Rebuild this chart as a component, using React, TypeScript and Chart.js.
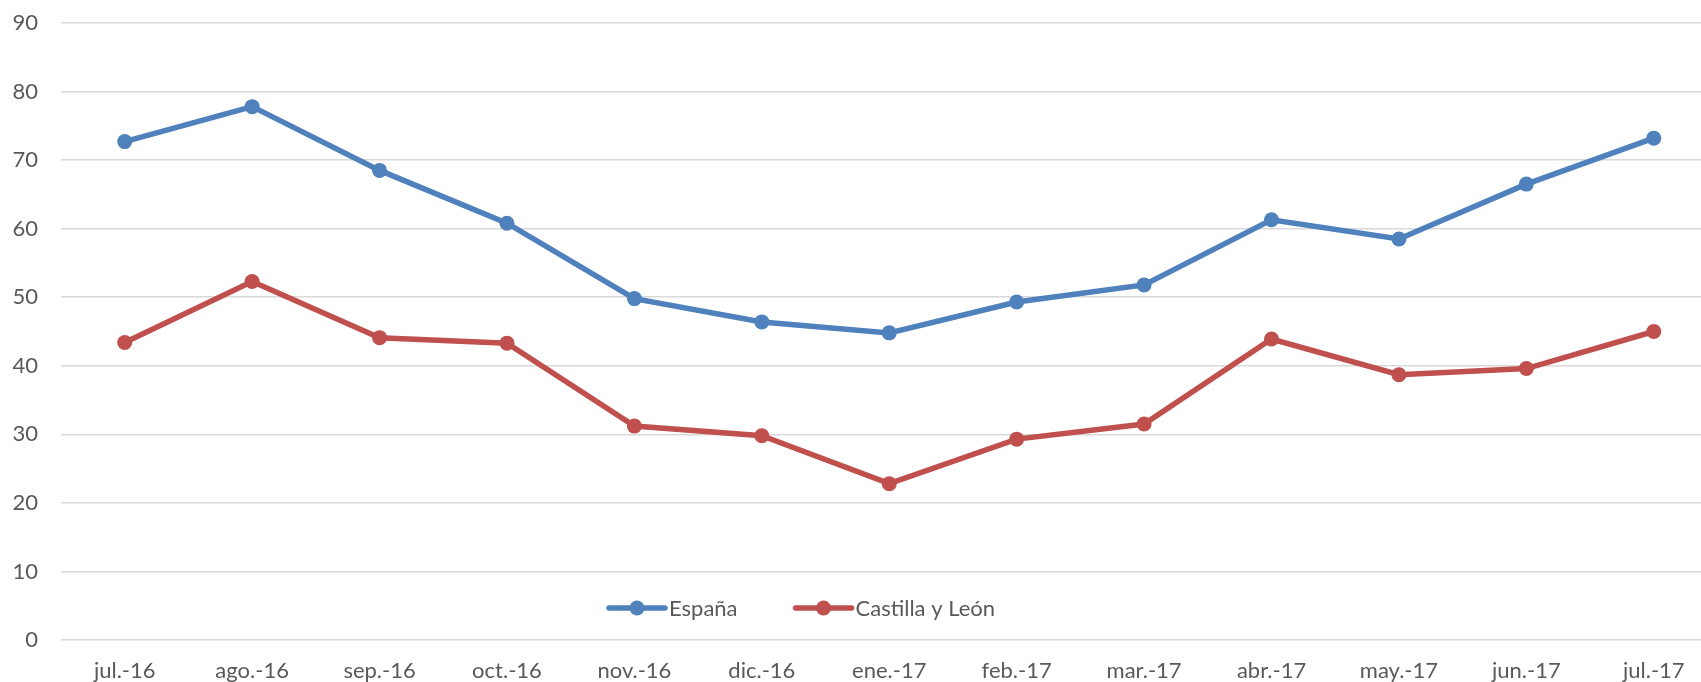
import React, { useEffect, useRef } from "react";
import { Chart, registerables } from "chart.js";

Chart.register(...registerables);

const categories = [
  "jul.-16", "ago.-16", "sep.-16", "oct.-16", "nov.-16", "dic.-16", "ene.-17",
  "feb.-17", "mar.-17", "abr.-17", "may.-17", "jun.-17", "jul.-17",
];
const espana = [72.7, 77.8, 68.5, 60.8, 49.8, 46.4, 44.8, 49.3, 51.8, 61.3, 58.5, 66.5, 73.2];
const castilla = [43.4, 52.3, 44.1, 43.3, 31.2, 29.8, 22.8, 29.3, 31.5, 43.9, 38.7, 39.6, 45.0];
const seriesNames = ["España", "Castilla y León"];
const seriesColors = ["#4F81BD", "#C0504D"];

const FONT = "Lato, 'Open Sans', sans-serif";
const TEXT = "#595959";

const legendPlugin = {
  id: "inlineLegend",
  afterDraw(chart: any) {
    const ctx = chart.ctx;
    const y = 608;
    const lineLen = 56;
    const gapText = 4;
    const gapItem = 58;
    ctx.save();
    ctx.font = `22px ${FONT}`;
    const widths = chart.data.datasets.map((d: any) => ctx.measureText(d.label).width);
    let total = 0;
    widths.forEach((w: number, i: number) => {
      total += lineLen + gapText + w + (i < widths.length - 1 ? gapItem : 0);
    });
    let x = 802 - total / 2;
    chart.data.datasets.forEach((d: any, i: number) => {
      ctx.strokeStyle = d.borderColor;
      ctx.lineWidth = 5.5;
      ctx.lineCap = "round";
      ctx.beginPath();
      ctx.moveTo(x, y);
      ctx.lineTo(x + lineLen, y);
      ctx.stroke();
      ctx.fillStyle = d.borderColor;
      ctx.beginPath();
      ctx.arc(x + lineLen / 2, y, 7.5, 0, Math.PI * 2);
      ctx.fill();
      ctx.fillStyle = TEXT;
      ctx.textBaseline = "middle";
      ctx.textAlign = "left";
      ctx.fillText(d.label, x + lineLen + gapText, y + 1);
      x += lineLen + gapText + widths[i] + gapItem;
    });
    ctx.restore();
  },
};

export default function App() {
  const ref = useRef<HTMLCanvasElement | null>(null);
  useEffect(() => {
    if (!ref.current) return;
    const chart = new Chart(ref.current, {
      type: "line",
      data: {
        labels: categories,
        datasets: [espana, castilla].map((vals, i) => ({
          label: seriesNames[i],
          data: vals,
          borderColor: seriesColors[i],
          backgroundColor: seriesColors[i],
          pointBackgroundColor: seriesColors[i],
          pointBorderWidth: 0,
          pointRadius: 7.5,
          borderWidth: 5.5,
          tension: 0,
        })),
      },
      options: {
        animation: false,
        responsive: false,
        maintainAspectRatio: false,
        layout: { padding: { top: 0, left: 0, right: 0, bottom: 0 } },
        plugins: {
          legend: { display: false },
          tooltip: { enabled: false },
        },
        scales: {
          x: {
            offset: true,
            grid: { display: false, drawTicks: false },
            border: { display: false },
            ticks: {
              color: TEXT,
              font: { family: FONT, size: 22 },
              padding: 18,
              maxRotation: 0,
              autoSkip: false,
            },
            afterFit(scale: any) {
              scale.height = 42;
              scale.paddingRight = 0;
              scale.paddingLeft = 0;
            },
          },
          y: {
            min: 0,
            max: 90,
            grid: { color: "#D9D9D9", lineWidth: 1.6, drawTicks: false },
            border: { display: false },
            ticks: {
              stepSize: 10,
              color: TEXT,
              font: { family: FONT, size: 22 },
              padding: 23,
            },
            afterFit(scale: any) {
              scale.width = 61;
              scale.paddingTop = 23;
            },
          },
        },
      },
      plugins: [legendPlugin],
    });
    return () => chart.destroy();
  }, []);
  return (
    <div style={{ position: "fixed", left: 0, top: 0, width: 1701, height: 682, overflow: "hidden", background: "#fff" }}>
      <canvas ref={ref} width={1725} height={682} style={{ display: "block", width: 1725, height: 682 }} />
    </div>
  );
}
